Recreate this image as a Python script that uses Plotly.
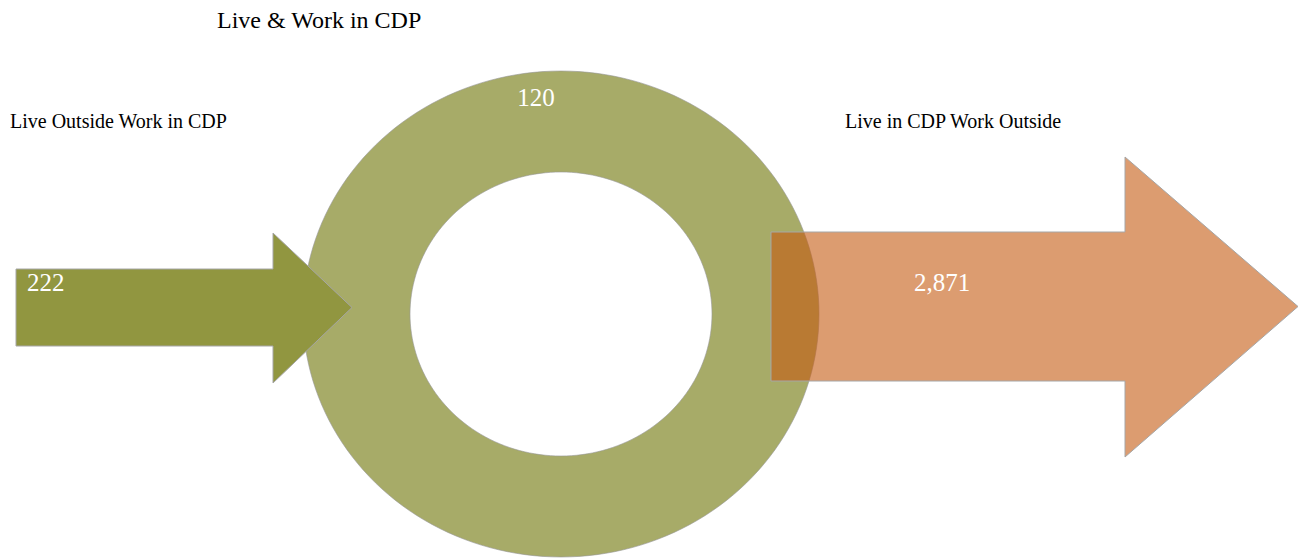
import numpy as np
import plotly.graph_objects as go

# ---- data ----
flow_labels = ["Live Outside Work in CDP", "Live & Work in CDP", "Live in CDP Work Outside"]
flow_values = [222, 120, 2871]
flow_colors = ["#919640", "#a7ab68", "rgba(197,90,17,0.6)"]

W, H = 1306, 558
PAD = 8  # default page body margin
fig = go.Figure()

# ring (Live & Work in CDP)
cx, cy = 561, 314
rxo, ryo = 258, 243
rxi, ryi = 151, 142
t = np.linspace(0, 2 * np.pi, 181)
def ell(rx, ry, rev=False):
    tt = t[::-1] if rev else t
    pts = [(cx + rx * np.cos(a), cy + ry * np.sin(a)) for a in tt]
    return "M " + " L ".join(f"{x:.2f},{y:.2f}" for x, y in pts) + " Z"
ring_path = ell(rxo, ryo) + " " + ell(rxi, ryi, rev=True)

shapes = [dict(type="path", path=ring_path, xref="x", yref="y",
               fillcolor=flow_colors[1], fillrule="evenodd",
               line=dict(color="rgba(150,150,150,0.6)", width=1), layer="below")]
fig.update_layout(shapes=shapes)

def arrow(x0, x1, xh, yb0, yb1, yh0, yh1):
    ym = (yb0 + yb1) / 2
    xs = [x0, xh, xh, x1, xh, xh, x0, x0]
    ys = [yb0, yb0, yh0, ym, yh1, yb1, yb1, yb0]
    return xs, ys

# inflow arrow
xs, ys = arrow(16, 352, 273, 269, 346, 233, 383)
fig.add_trace(go.Scatter(x=xs, y=ys, mode="lines", fill="toself",
                         fillcolor=flow_colors[0], line=dict(color="#a6a6a6", width=1),
                         hoverinfo="skip", showlegend=False))
# outflow arrow
xs, ys = arrow(771, 1298, 1125, 232, 381, 157, 457)
fig.add_trace(go.Scatter(x=xs, y=ys, mode="lines", fill="toself",
                         fillcolor=flow_colors[2], line=dict(color="#a6a6a6", width=1),
                         hoverinfo="skip", showlegend=False))

serif = "Liberation Serif, Times New Roman, serif"
# category labels
fig.add_trace(go.Scatter(
    x=[10, 217, 845], y=[123, 22, 123], mode="text",
    text=[flow_labels[0], flow_labels[1], flow_labels[2]],
    textposition="middle right",
    textfont=dict(family=serif, size=[20, 24, 20], color="black"),
    hoverinfo="skip", showlegend=False))
# value labels
fig.add_trace(go.Scatter(
    x=[27, 536, 942], y=[285, 100, 285], mode="text",
    text=[f"{v:,}" for v in flow_values],
    textposition=["middle right", "middle center", "middle center"],
    textfont=dict(family=serif, size=25, color="white"),
    hoverinfo="skip", showlegend=False))

fig.update_layout(
    width=W - PAD, height=H - PAD, margin=dict(l=0, r=0, t=0, b=0),
    paper_bgcolor="white", plot_bgcolor="white",
    xaxis=dict(range=[PAD, W], visible=False, fixedrange=True),
    yaxis=dict(range=[H, PAD], visible=False, fixedrange=True),
)
fig.write_html("out.html")
